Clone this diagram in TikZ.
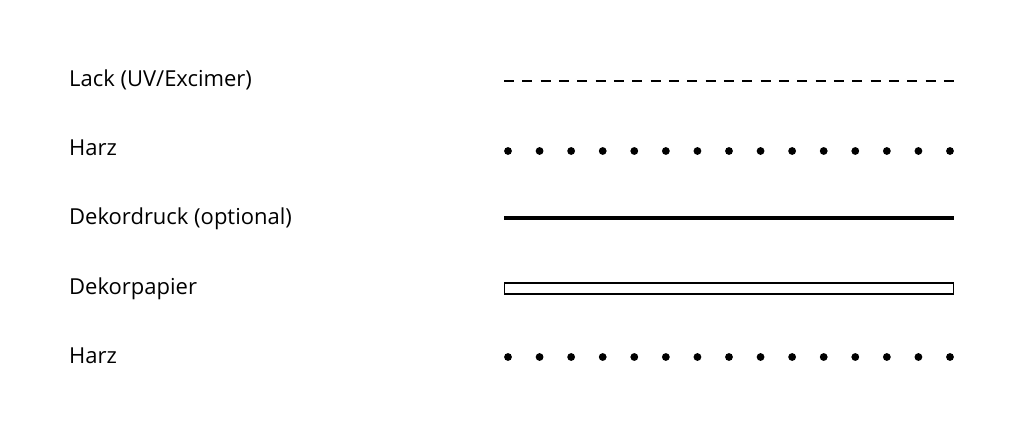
\documentclass[tikz,border=0pt]{standalone}
\usepackage{fontspec}
\setmainfont{Open Sans}
\begin{document}
\begin{tikzpicture}[x=1pt,y=-1pt,
  lbl/.style={anchor=base west,inner sep=0pt,font=\fontsize{22}{26}\selectfont},
  dotstyle/.style={fill=black,draw=none}]
\useasboundingbox (0,0) rectangle (1024,430);
\node[lbl] (l1) at (69,87) {Lack (UV/Excimer)};
\node[lbl] (l2) at (69,156) {Harz};
\node[lbl] (l3) at (69,225) {Dekordruck (optional)};
\node[lbl] (l4) at (69,294) {Dekorpapier};
\node[lbl] (l5) at (69,363) {Harz};
% dashed line
\draw[line width=2pt,dash pattern=on 10pt off 8.33pt] (504,81) -- (954,81);
% dots rows
\foreach \i in {0,...,14}{
  \fill[dotstyle] ({508+\i*31.57},151) circle (3.9);
  \fill[dotstyle] ({508+\i*31.57},357) circle (3.9);
}
% thick line
\draw[line width=4pt] (504,218.5) -- (954,218.5);
% paper rectangle
\draw[line width=1.3pt,fill=white] (504.5,283) rectangle (953.5,294);
\end{tikzpicture}
\end{document}
